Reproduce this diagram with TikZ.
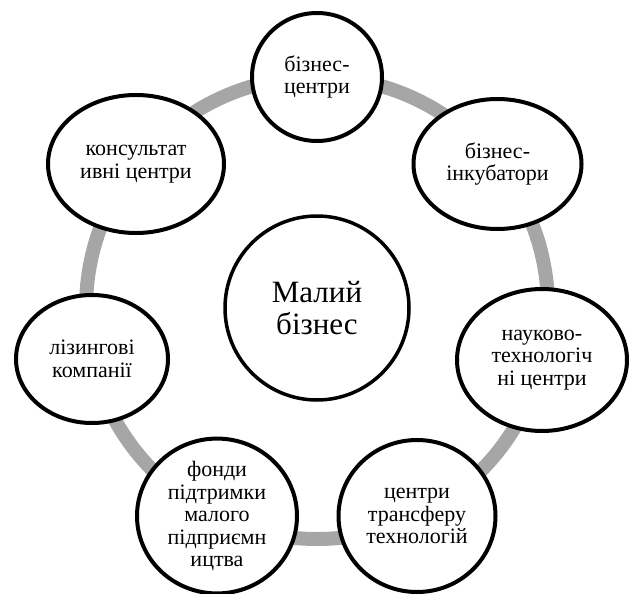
\documentclass[tikz,border=0pt]{standalone}
\usepackage{fontspec}
\setmainfont{Liberation Serif}
\usetikzlibrary{shapes.geometric}
\definecolor{ringgray}{HTML}{A6A6A6}
\begin{document}
\begin{tikzpicture}[x=1pt,y=-1pt,
  item/.style={ellipse, draw=black, line width=4pt, fill=white, inner sep=0pt,
    align=center, font=\fontsize{22}{22.5}\selectfont},
  hub/.style={circle, draw=black, line width=3.5pt, fill=white, inner sep=0pt,
    minimum size=184pt, align=center, font=\fontsize{31}{32}\selectfont},
  ring/.style={draw=ringgray, line width=14pt}]
\useasboundingbox (0,0) rectangle (629,594);
\coordinate (c) at (317,308);
\draw[ring] (c) circle[radius=231pt];
\node[hub] (hub) at (c) {Малий\\бізнес};
\node[item, minimum width=130pt, minimum height=128pt] (n1) at (317,77) {бізнес-\\центри};
\node[item, minimum width=168pt, minimum height=130pt] (n2) at (497.5,164) {бізнес-\\інкубатори};
\node[item, minimum width=170pt, minimum height=142pt] (n3) at (542,360) {науково-\\технологіч\\ні центри};
\node[item, minimum width=157pt, minimum height=152pt] (n4) at (417,516) {центри\\трансферу\\технологій};
\node[item, minimum width=160pt, minimum height=150pt] (n5) at (217,516) {фонди\\підтримки\\малого\\підприємн\\ицтва};
\node[item, minimum width=152pt, minimum height=128pt] (n6) at (92,359) {лізингові\\компанії};
\node[item, minimum width=176pt, minimum height=138pt] (n7) at (136,164) {консультат\\ивні центри};
\end{tikzpicture}
\end{document}
